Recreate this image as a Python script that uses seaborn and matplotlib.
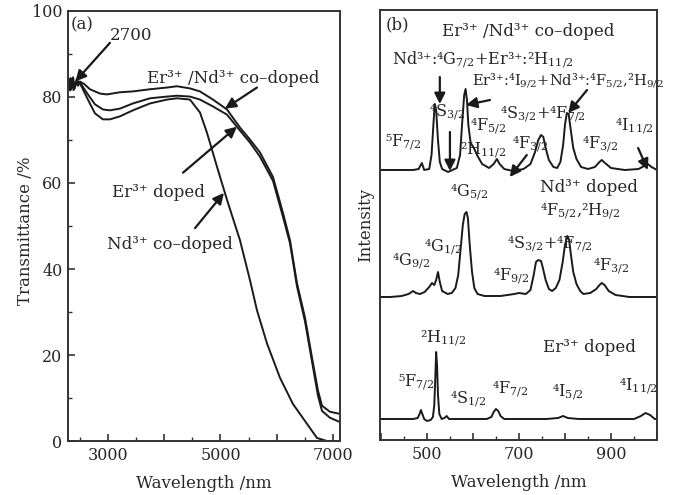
import matplotlib
matplotlib.use("Agg")
import matplotlib.pyplot as plt
from matplotlib.ticker import MultipleLocator, FuncFormatter
import seaborn as sns

# ---- (a) transmittance curves ----
wl_erbium_nd = [2290, 2320, 2350, 2380, 2410, 2440, 2470, 2502, 2580, 2680, 2858, 2982, 3213, 3444, 3747,
                4049, 4227, 4458, 4636, 4867, 5116, 5347, 5525, 5703, 5934, 6112, 6236, 6360,
                6503, 6627, 6734, 6805, 6947, 7125]
tr_erbium_nd = [82.5, 84.2, 81.8, 84.6, 82.0, 84.0, 82.6, 83.6, 83.0, 81.8, 80.8, 80.6, 81.1, 81.3, 81.8,
                82.2, 82.5, 82.0, 81.3, 79.4, 77.1, 72.9, 70.1, 67.1, 61.4, 53.0, 46.7, 36.7,
                28.7, 19.4, 11.7, 8.2, 6.8, 6.3]

wl_erbium = [2290, 2330, 2370, 2410, 2450, 2502, 2644, 2769, 2911, 3036, 3213, 3444, 3747,
             4049, 4227, 4458, 4636, 4867, 5116, 5347, 5525, 5703, 5934, 6112, 6236, 6360,
             6503, 6627, 6734, 6805, 6947, 7125]
tr_erbium = [83.0, 81.5, 84.0, 82.2, 83.8, 83.4, 80.6, 78.3, 77.1, 76.9, 77.3, 78.5, 79.7,
             80.1, 80.3, 80.1, 79.4, 77.8, 75.9, 72.2, 69.4, 66.1, 60.5, 52.1, 46.0, 36.0,
             27.8, 18.5, 10.5, 7.0, 5.4, 4.4]

wl_nd = [2290, 2340, 2390, 2440, 2502, 2644, 2769, 2911, 3036, 3213, 3444, 3747, 4049, 4227,
         4458, 4636, 4760, 4938, 5116, 5347, 5525, 5649, 5827, 6058, 6289, 6538, 6716,
         6894, 7125]
tr_nd = [82.0, 84.4, 81.6, 83.6, 83.2, 79.4, 76.2, 74.8, 74.8, 75.5, 76.9, 78.5, 79.4, 79.7,
         79.4, 76.4, 71.7, 63.8, 56.1, 46.7, 37.4, 30.4, 22.7, 14.7, 8.6, 4.0, 0.7,
         0.0, 0.0]

# ---- (b) emission spectra (arbitrary intensity, stacked) ----
wl_codoped = [398, 430, 470, 482, 489, 494, 505, 510, 514, 517, 520, 524, 528, 533, 546, 560,
              565, 572, 577, 581, 584, 587, 590, 595, 602, 610, 620, 635, 645, 652, 658, 668,
              687, 710, 725, 735, 742, 748, 753, 758, 765, 775, 783, 790, 796, 800, 804, 808,
              812, 818, 825, 835, 850, 865, 875, 880, 887, 900, 930, 960, 972, 980, 988, 1000]
int_codoped = [270, 270, 270, 271, 277, 270, 271, 285, 315, 336, 330, 300, 278, 271, 268, 271,
               272, 285, 320, 345, 351, 340, 315, 297, 292, 284, 276, 272, 276, 281, 276, 271,
               269, 271, 276, 288, 300, 305, 303, 292, 280, 273, 272, 278, 295, 315, 327, 326,
               312, 292, 281, 273, 271, 273, 278, 280, 277, 272, 270, 271, 274, 276, 273, 270]

wl_nd_doped = [398, 420, 445, 460, 470, 476, 485, 495, 505, 511, 516, 520, 524, 528, 533, 545,
               554, 562, 568, 573, 578, 582, 586, 589, 593, 598, 603, 610, 625, 660, 690, 700,
               715, 725, 732, 737, 742, 748, 752, 758, 765, 772, 780, 788, 795, 800, 805, 809,
               813, 818, 825, 833, 840, 855, 868, 875, 880, 886, 895, 910, 940, 1000]
int_nd_doped = [143, 143, 144, 146, 149, 147, 146, 148, 153, 157, 155, 160, 168, 158, 149, 146,
                147, 152, 165, 190, 215, 226, 228, 222, 195, 168, 152, 146, 144, 144, 146, 147,
                146, 150, 165, 178, 180, 179, 172, 160, 151, 149, 152, 160, 178, 195, 204, 200,
                185, 168, 156, 149, 146, 147, 151, 155, 157, 155, 149, 145, 143, 143]

wl_er_doped = [398, 470, 480, 484, 487, 490, 494, 500, 508, 513, 516, 518, 520, 522, 524, 527,
               532, 538, 543, 548, 560, 630, 640, 645, 650, 655, 660, 668, 700, 760, 785, 796,
               806, 830, 900, 950, 965, 975, 985, 995, 1000]
int_er_doped = [21, 21, 22, 26, 30, 26, 21, 19, 20, 23, 35, 60, 88, 75, 45, 26,
                21, 22, 24, 21, 21, 21, 23, 28, 31, 29, 24, 21, 21, 21, 22, 24,
                22, 21, 21, 21, 24, 27, 25, 21, 21]

sns.set_theme(style="ticks")
plt.rcParams["font.family"] = ["DejaVu Serif", "DejaVu Sans"]
plt.rcParams["mathtext.fontset"] = "dejavuserif"

fig = plt.figure(figsize=(6.74, 4.95), dpi=100)
ax1 = fig.add_axes([68 / 674, 54 / 495, 272 / 674, 430 / 495])
ax2 = fig.add_axes([380 / 674, 55 / 495, 277 / 674, 430 / 495])

lw = 1.4
sns.lineplot(x=wl_erbium_nd, y=tr_erbium_nd, ax=ax1, color="k", lw=lw, sort=False, estimator=None)
sns.lineplot(x=wl_erbium, y=tr_erbium, ax=ax1, color="k", lw=lw, sort=False, estimator=None)
sns.lineplot(x=wl_nd, y=tr_nd, ax=ax1, color="k", lw=lw, sort=False, estimator=None)

sns.lineplot(x=wl_codoped, y=int_codoped, ax=ax2, color="k", lw=lw, sort=False, estimator=None)
sns.lineplot(x=wl_nd_doped, y=int_nd_doped, ax=ax2, color="k", lw=lw, sort=False, estimator=None)
sns.lineplot(x=wl_er_doped, y=int_er_doped, ax=ax2, color="k", lw=lw, sort=False, estimator=None)

fs = 12
bfs = 11.5
tfs = 11.5

# axes (a)
ax1.set_xlim(2290, 7125)
ax1.set_ylim(0, 100)
ax1.xaxis.set_major_locator(MultipleLocator(1000))
ax1.xaxis.set_minor_locator(MultipleLocator(500))
ax1.xaxis.set_major_formatter(FuncFormatter(lambda v, p: f"{int(v)}" if int(v) % 2000 == 1000 else ""))
ax1.yaxis.set_major_locator(MultipleLocator(20))
ax1.yaxis.set_minor_locator(MultipleLocator(10))
ax1.set_xlabel("Wavelength /nm", fontsize=fs, labelpad=8)
ax1.set_ylabel("Transmittance /%", fontsize=fs)
ax1.yaxis.set_label_coords(-0.125, 0.49)

# axes (b)
ax2.set_xlim(398, 1000)
ax2.set_ylim(0, 430)
ax2.xaxis.set_major_locator(MultipleLocator(100))
ax2.xaxis.set_minor_locator(MultipleLocator(50))
ax2.xaxis.set_major_formatter(FuncFormatter(lambda v, p: f"{int(v)}" if int(v) % 200 == 100 else ""))
ax2.set_yticks([])
ax2.set_xlabel("Wavelength /nm", fontsize=fs, labelpad=8)
ax2.set_ylabel("Intensity", fontsize=fs, labelpad=4)

for ax in (ax1, ax2):
    for s in ax.spines.values():
        s.set_color("#333333")
        s.set_linewidth(1.4)
    ax.tick_params(which="both", direction="in", labelsize=tfs, color="#333333", pad=4)
    ax.tick_params(which="major", length=5, width=1.2)
    ax.tick_params(which="minor", length=3, width=1.0)

arrow = dict(arrowstyle="-|>", color="k", lw=1.6, mutation_scale=16, shrinkA=0, shrinkB=0)


def label(ax, x, y, s, size=fs):
    ax.text(x, y, s, fontsize=size, ha="left", va="center", clip_on=False)


def point(ax, tail, head):
    ax.annotate("", xy=head, xytext=tail, arrowprops=arrow)


# (a) annotations
label(ax1, 2345, 96.8, "(a)")
label(ax1, 3036, 94.4, "2700")
point(ax1, (3036, 92.6), (2420, 83.6))
label(ax1, 3693, 84.3, "Er³⁺ /Nd³⁺ co–doped")
point(ax1, (5649, 82.2), (5080, 77.3))
label(ax1, 3071, 57.7, "Er³⁺ doped")
point(ax1, (4334, 62.4), (5294, 73.1))
label(ax1, 2982, 45.6, "Nd³⁺ co–doped")
point(ax1, (4547, 49.5), (5062, 57.7))

# (b) co-doped block
label(ax2, 411, 415, "(b)")
label(ax2, 533, 408, "Er³⁺ /Nd³⁺ co–doped")
label(ax2, 424, 380, r"Nd³⁺:⁴G$_{7/2}$+Er³⁺:²H$_{11/2}$", bfs)
label(ax2, 598, 360, r"Er³⁺:⁴I$_{9/2}$+Nd³⁺:⁴F$_{5/2}$,²H$_{9/2}$", 10.5)
point(ax2, (528, 363), (528, 336))
label(ax2, 505, 327, r"⁴S$_{3/2}$", bfs)
point(ax2, (637, 340), (585, 335))
label(ax2, 593, 313, r"⁴F$_{5/2}$", bfs)
label(ax2, 572, 289, r"²H$_{11/2}$", bfs)
label(ax2, 409, 297, r"⁵F$_{7/2}$", bfs)
point(ax2, (550, 308), (550, 269))
label(ax2, 685, 295, r"⁴F$_{3/2}$", bfs)
point(ax2, (717, 285), (680, 263))
label(ax2, 659, 325, r"⁴S$_{3/2}$+⁴F$_{7/2}$", bfs)
point(ax2, (848, 350), (807, 327))
label(ax2, 837, 295, r"⁴F$_{3/2}$", bfs)
label(ax2, 909, 313, r"⁴I$_{11/2}$", bfs)
point(ax2, (959, 292), (980, 270))

# (b) Nd block
label(ax2, 746, 252, "Nd³⁺ doped")
label(ax2, 550, 247, r"⁴G$_{5/2}$", bfs)
label(ax2, 746, 228, r"⁴F$_{5/2}$,²H$_{9/2}$", bfs)
label(ax2, 674, 195, r"⁴S$_{3/2}$+⁴F$_{7/2}$", bfs)
label(ax2, 493, 192, r"⁴G$_{1/2}$", bfs)
label(ax2, 424, 178, r"⁴G$_{9/2}$", bfs)
label(ax2, 643, 163, r"⁴F$_{9/2}$", bfs)
label(ax2, 861, 173, r"⁴F$_{3/2}$", bfs)

# (b) Er block
label(ax2, 485, 101, r"²H$_{11/2}$", bfs)
label(ax2, 752, 93, "Er³⁺ doped")
label(ax2, 437, 57, r"⁵F$_{7/2}$", bfs)
label(ax2, 550, 40, r"⁴S$_{1/2}$", bfs)
label(ax2, 641, 50, r"⁴F$_{7/2}$", bfs)
label(ax2, 772, 47, r"⁴I$_{5/2}$", bfs)
label(ax2, 918, 53, r"⁴I$_{11/2}$", bfs)

fig.savefig("out.png", dpi=100)
